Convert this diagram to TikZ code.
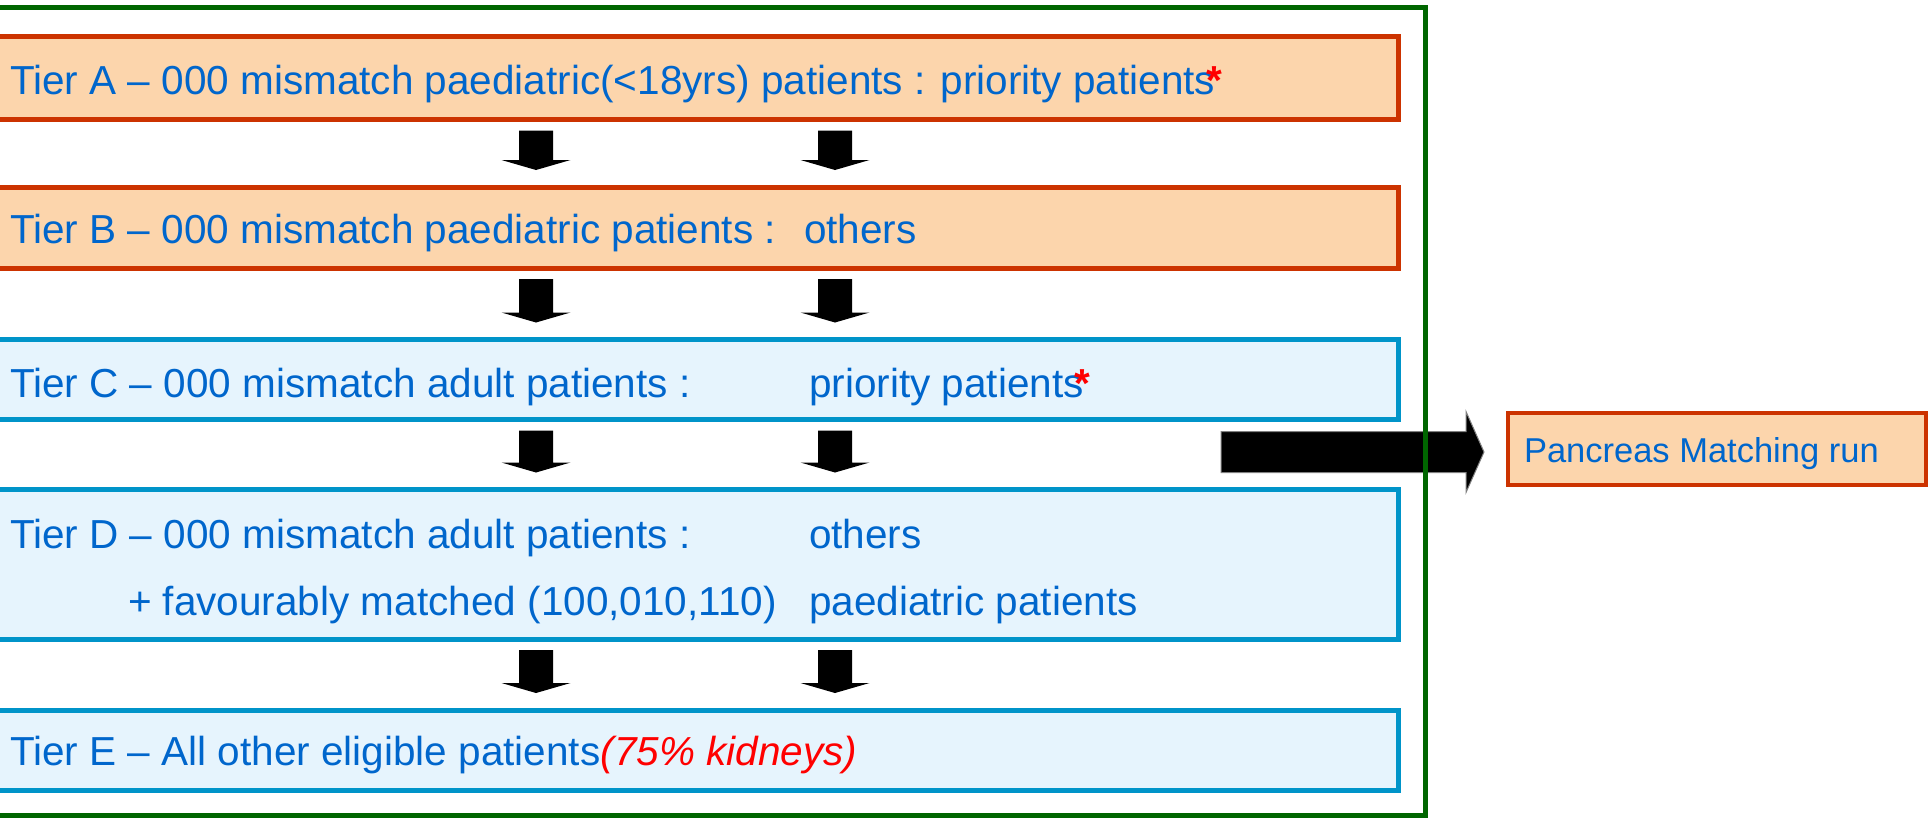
\documentclass[tikz,border=0pt]{standalone}
\usepackage{fontspec}
\setmainfont{Liberation Sans}
\usetikzlibrary{calc}
\definecolor{txtblue}{HTML}{0066CC}
\definecolor{orgline}{HTML}{CC3300}
\definecolor{peach}{HTML}{FCD5AC}
\definecolor{bluline}{HTML}{0094C9}
\definecolor{lblue}{HTML}{E6F4FD}
\definecolor{frgreen}{HTML}{006600}
\newcommand\blkarrow[2]{\fill[black] let \p1=#1, \p2=#2 in (\x1-17pt,\y1) -- (\x1+17pt,\y1) -- (\x1+17pt,\y2+10pt) -- (\x1+34.5pt,\y2+10pt) -- (\x1,\y2) -- (\x1-34.5pt,\y2+10pt) -- (\x1-17pt,\y2+10pt) -- cycle;}
\newcommand\redstar{\kern-0.22em\textcolor{red}{\bfseries *}}
\begin{document}
\begin{tikzpicture}[x=1pt,y=-1pt,
  tierbox/.style={rectangle, inner sep=0pt, outer sep=0pt, line width=5pt, anchor=north west, minimum width=1408pt},
  warm/.style={tierbox, draw=orgline, fill=peach},
  cool/.style={tierbox, draw=bluline, fill=lblue},
  lbl/.style={inner sep=0pt, outer sep=0pt, anchor=base west, text=txtblue, font=\fontsize{40.5pt}{48pt}\selectfont},
  plbl/.style={lbl, font=\fontsize{34.5pt}{40pt}\selectfont}]
\useasboundingbox (0,0) rectangle (1930,817);
% tier boxes
\node[warm, minimum height=83pt] (A) at (-10,36.5) {};
\node[warm, minimum height=81pt] (B) at (-10,187) {};
\node[cool, minimum height=80pt] (C) at (-10,339.5) {};
\node[cool, minimum height=149.5pt] (D) at (-10,489.5) {};
\node[cool, minimum height=80pt] (E) at (-10,710) {};
% texts
\node[lbl] (tA) at (10,94) {Tier A – 000 mismatch paediatric(<18yrs) patients : priority patients\redstar};
\node[lbl] (tB) at (10,243.5) {Tier B – 000 mismatch paediatric patients :};
\node[lbl] (tB2) at (804,243.5) {others};
\node[lbl] (tC) at (10,397) {Tier C – 000 mismatch adult patients :};
\node[lbl] (tC2) at (809,397) {priority patients\redstar};
\node[lbl] (tD) at (10,548) {Tier D – 000 mismatch adult patients :};
\node[lbl] (tD2) at (809,548) {others};
\node[lbl] (tD3) at (128,615) {+ favourably matched (100,010,110)};
\node[lbl] (tD4) at (809,615) {paediatric patients};
\node[lbl] (tE) at (10,765) {Tier E – All other eligible patients\textcolor{red}{\itshape (75\% kidneys)}};
% arrow columns
\coordinate (c1) at (536,0);
\coordinate (c2) at (835,0);
\foreach \u/\v in {A/B,B/C,C/D,D/E}{
  \foreach \c in {c1,c2}{
    \blkarrow{($(\u.south -| \c)+(0,11)$)}{($(\v.north -| \c)+(0,-17)$)}
  }
}
% pancreas box
\node[rectangle, inner sep=0pt, outer sep=0pt, anchor=north west, draw=orgline, fill=peach, line width=4pt, minimum width=418pt, minimum height=72pt] (P) at (1508,412.5) {};
\node[plbl] (tP) at (1524,462) {Pancreas Matching run};
% big arrow
\coordinate (bs) at (1221,452);
\fill[black, draw=gray, line width=1pt] let \p1=(bs), \p2=($(P.west)+(-24,0)$) in
  (\x1,\y1+20.5pt) -- (\x2-18pt,\y1+20.5pt) -- (\x2-18pt,\y1+40.5pt) -- (\x2,\y1) -- (\x2-18pt,\y1-40.5pt) -- (\x2-18pt,\y1-20.5pt) -- (\x1,\y1-20.5pt) -- cycle;
% green frame
\node[rectangle, inner sep=0pt, outer sep=0pt, anchor=north west, draw=frgreen, line width=5pt, minimum width=1435pt, minimum height=807.5pt] (F) at (-10,7.5) {};
\end{tikzpicture}
\end{document}
